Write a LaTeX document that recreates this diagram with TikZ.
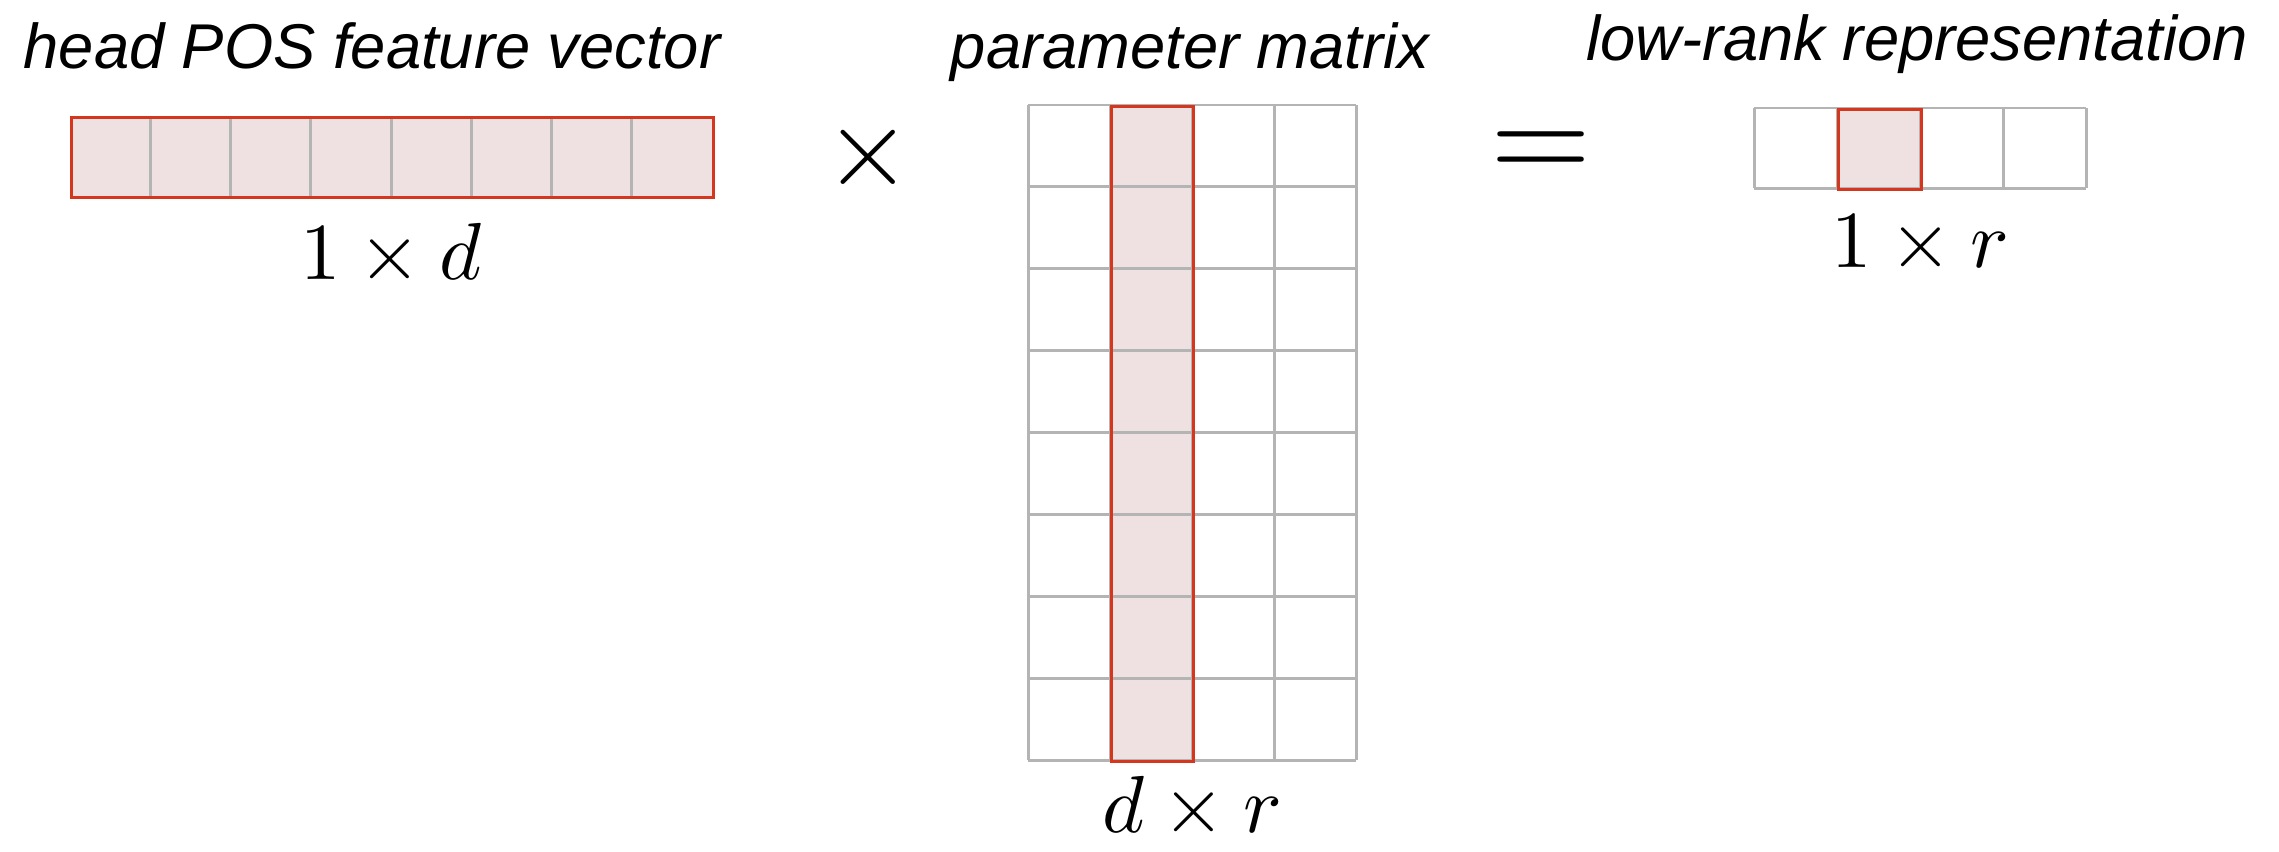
\documentclass[tikz,border=0pt]{standalone}
\usepackage{fontspec}
\newfontfamily\lblfont{Liberation Sans}
\definecolor{cellfill}{HTML}{EFE1E2}
\definecolor{cellred}{HTML}{D4361E}
\definecolor{cellgray}{HTML}{B4B4B4}
\begin{document}
\begin{tikzpicture}[x=0.01cm,y=-0.01cm,
  gridline/.style={draw=cellgray,line width=0.85pt},
  redline/.style={draw=cellred,line width=0.85pt},
  outline/.style={inner sep=0pt,anchor=north west},
  title/.style={font=\lblfont\itshape\fontsize{18}{20}\selectfont,anchor=base,inner sep=0pt},
  dimlabel/.style={font=\normalsize,scale=2.3,anchor=base,inner sep=0pt},
  operator/.style={inner sep=0pt}]
\useasboundingbox (0,0) rectangle (2279,851);

% head POS feature vector (1 x d)
\fill[cellfill] (70,116) rectangle (712,196);
\foreach \i in {1,...,7}
  \draw[gridline] ({70+\i*80.25},116) -- ({70+\i*80.25},196);
\node[outline,redline,minimum width=6.42cm,minimum height=0.8cm] (hv) at (70,116) {};
\node[title] (hvtitle) at (372,68) {head POS feature vector};
\node[dimlabel] (hvdim) at (391,279) {$1\times d$};

% multiplication sign
\node[operator,scale=3.2] (times) at (868,157) {$\times$};

% parameter matrix (d x r)
\fill[cellfill] (1110,105) rectangle (1192,760);
\foreach \i in {0,...,4}
  \draw[gridline] ({1028+\i*82},105) -- ({1028+\i*82},760);
\foreach \j in {0,...,8}
  \draw[gridline] (1028,{105+\j*81.875}) -- (1356,{105+\j*81.875});
\node[outline,redline,minimum width=0.82cm,minimum height=6.55cm] (pcol) at (1110,105) {};
\node[title] (pmtitle) at (1190,68) {parameter matrix};
\node[dimlabel] (pmdim) at (1192,832) {$d\times r$};

% equals sign
\node[operator,scale=3.7] (equals) at (1541,156) {$=$};

% low-rank representation (1 x r)
\fill[cellfill] (1837,108) rectangle (1920,188);
\foreach \i in {0,...,4}
  \draw[gridline] ({1754+\i*83},108) -- ({1754+\i*83},188);
\draw[gridline] (1754,108) -- (2086,108);
\draw[gridline] (1754,188) -- (2086,188);
\node[outline,redline,minimum width=0.83cm,minimum height=0.8cm] (lrcell) at (1837,108) {};
\node[title] (lrtitle) at (1917,60) {low-rank representation};
\node[dimlabel] (lrdim) at (1920,267) {$1\times r$};
\end{tikzpicture}
\end{document}
